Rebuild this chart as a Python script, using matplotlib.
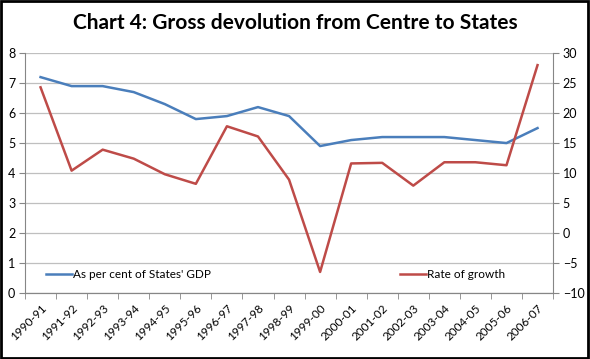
import numpy as np
import matplotlib.pyplot as plt
import matplotlib.transforms as mtrans
from matplotlib.lines import Line2D

years = ['1990-91', '1991-92', '1992-93', '1993-94', '1994-95', '1995-96',
         '1996-97', '1997-98', '1998-99', '1999-00', '2000-01', '2001-02',
         '2002-03', '2003-04', '2004-05', '2005-06', '2006-07']
pct_gdp = [7.2, 6.9, 6.9, 6.7, 6.3, 5.8, 5.9, 6.2, 5.9, 4.9, 5.1, 5.2,
           5.2, 5.2, 5.1, 5.0, 5.5]
growth = [24.3, 10.4, 13.9, 12.4, 9.8, 8.2, 17.8, 16.1, 8.9, -6.5, 11.6,
          11.7, 7.9, 11.8, 11.8, 11.3, 28.0]

plt.rcParams['font.family'] = ['Lato', 'DejaVu Sans']

fig = plt.figure(figsize=(5.9, 3.59), dpi=100)
ax = fig.add_axes([0.0424, 0.184, 0.895, 0.668])
ax2 = ax.twinx()

x = np.arange(len(years))
blue = '#4A7EBB'
red = '#BE4B48'
ax.plot(x, pct_gdp, color=blue, lw=1.8, zorder=3)
ax2.plot(x, growth, color=red, lw=1.8, zorder=3)

ax.set_xlim(-0.5, len(years) - 0.5)
ax.set_ylim(0, 8)
ax2.set_ylim(-10, 30)
ax.set_yticks(range(0, 9))
ax2.set_yticks(range(-10, 31, 5))

ax.set_xticks(x)
ax.set_xticklabels(years, rotation=45, ha='right', rotation_mode='anchor', fontsize=8.5)
# nudge the rotated labels a little right, like Excel does
shift = mtrans.ScaledTranslation(5 / 72, 0, fig.dpi_scale_trans)
for lbl in ax.get_xticklabels():
    lbl.set_transform(lbl.get_transform() + shift)
ax.set_xticks(np.arange(-0.5, len(years), 1), minor=True)
ax.tick_params(axis='x', which='major', length=0, pad=7)
ax.tick_params(axis='x', which='minor', length=4, color='#868686')
ax.tick_params(axis='y', labelsize=9, length=4, color='#868686', pad=3)
ax2.tick_params(axis='y', labelsize=9, length=4, color='#868686', pad=3)

ax.grid(axis='y', color='#BFBFBF', lw=0.9)
ax.set_axisbelow(True)
for a in (ax, ax2):
    a.spines['top'].set_visible(False)
    a.spines['left'].set_color('#868686')
    a.spines['right'].set_color('#868686')
    a.spines['bottom'].set_color('#868686')
ax2.spines['left'].set_visible(False)
ax.spines['right'].set_visible(False)

ax.legend(handles=[Line2D([], [], color=blue, lw=1.8)],
          labels=["As per cent of States' GDP"], loc='lower left',
          bbox_to_anchor=(0.02, 0.01), frameon=False, fontsize=8.5,
          handlelength=2.2, handletextpad=0.1)
ax2.legend(handles=[Line2D([], [], color=red, lw=1.8)],
           labels=['Rate of growth'], loc='lower left',
           bbox_to_anchor=(0.69, 0.01), frameon=False, fontsize=8.5,
           handlelength=2.2, handletextpad=0.1)

fig.text(0.5, 0.935, 'Chart 4: Gross devolution from Centre to States',
         ha='center', va='center', fontsize=15, fontweight='bold')

fig.patches.append(plt.Rectangle((0.002, 0.003), 0.995, 0.994, transform=fig.transFigure,
                                 fill=False, edgecolor='black', lw=2))

fig.savefig('out.png', dpi=100)
